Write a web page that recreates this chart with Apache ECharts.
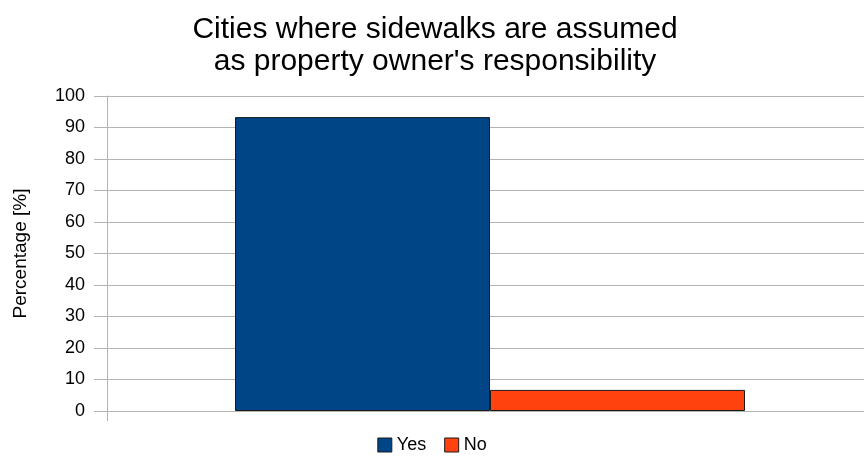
<!DOCTYPE html>
<html>
<head>
<meta charset="utf-8">
<script src="https://cdn.jsdelivr.net/npm/echarts@6/dist/echarts.min.js"></script>
<style>html,body{margin:0;padding:0;background:#fff}#c{width:864px;height:460px}</style>
</head>
<body>
<div id="c"></div>
<script>
const titleLines = ["Cities where sidewalks are assumed", "as property owner's responsibility"];
const categories = [""];
const seriesNames = ["Yes", "No"];
const yesValues = [93.3];
const noValues = [6.7];
const yTicks = { min: 0, max: 100, interval: 10 };
const yAxisName = "Percentage [%]";

const chart = echarts.init(document.getElementById('c'), null, { renderer: 'canvas' });
const font = "'Liberation Sans', Arial, sans-serif";
chart.setOption({
  animation: false,
  backgroundColor: '#ffffff',
  title: {
    text: titleLines.join('\n'),
    left: 430, textAlign: 'center', top: 9,
    textStyle: { fontFamily: font, fontSize: 30, fontWeight: 'normal', color: '#000', lineHeight: 32 }
  },
  legend: {
    data: seriesNames,
    bottom: 1, left: 'center',
    itemWidth: 14, itemHeight: 14, itemGap: 18,
    icon: 'rect',
    textStyle: { fontFamily: font, fontSize: 18, color: '#000' },
    itemStyle: { borderColor: '#1a1a1a', borderWidth: 1 }
  },
  grid: { left: 107, width: 766, top: 96, bottom: 49, containLabel: false, outerBoundsMode: 'none' },
  xAxis: {
    type: 'category', data: categories,
    axisLine: { show: true, lineStyle: { color: '#b3b3b3', width: 1 } },
    axisTick: { show: true, length: 10, lineStyle: { color: '#b3b3b3' } },
    axisLabel: { show: false },
    splitLine: { show: false }
  },
  yAxis: {
    type: 'value', min: yTicks.min, max: yTicks.max, interval: yTicks.interval,
    name: yAxisName, nameLocation: 'middle', nameGap: 77, nameRotate: 90,
    nameTextStyle: { fontFamily: font, fontSize: 19, color: '#000' },
    axisLine: { show: true, lineStyle: { color: '#b3b3b3', width: 1 } },
    axisTick: { show: true, length: 13, lineStyle: { color: '#b3b3b3' } },
    axisLabel: { fontFamily: font, fontSize: 18, color: '#000', margin: 22 },
    splitLine: { show: true, lineStyle: { color: '#b3b3b3', width: 1 } }
  },
  series: [
    { name: seriesNames[0], type: 'bar', data: yesValues, barWidth: 255, barGap: '0%',
      itemStyle: { color: '#004586', borderColor: '#1a1a1a', borderWidth: 1 } },
    { name: seriesNames[1], type: 'bar', data: noValues, barWidth: 255, barGap: '0%',
      itemStyle: { color: '#ff420e', borderColor: '#1a1a1a', borderWidth: 1 } }
  ]
});
</script>
</body>
</html>
